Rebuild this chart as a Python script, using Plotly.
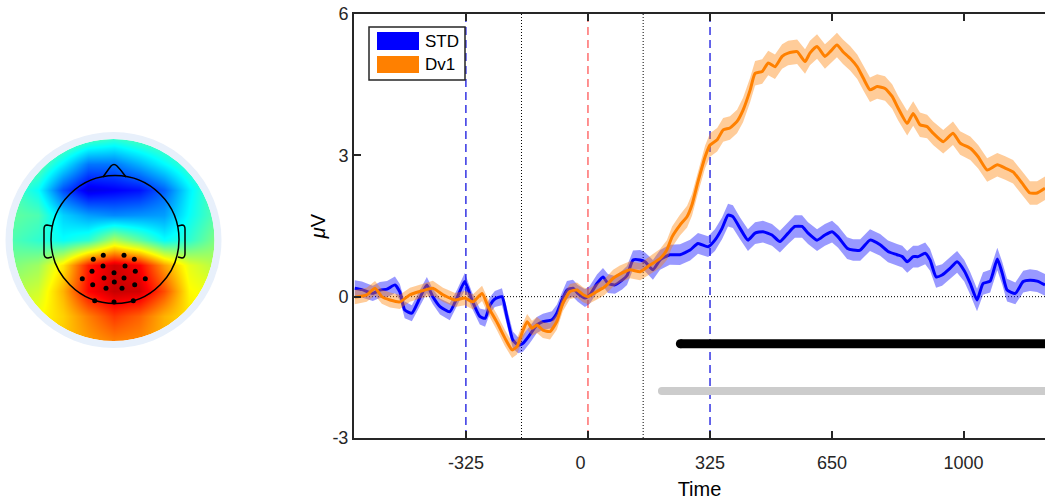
import numpy as np
import plotly.graph_objects as go

W, H = 1045, 500

# ---------------- ERP data (time in ms, amplitude in microvolts) ----------------
std_t = [-621, -602, -573, -554, -535, -514, -501, -488, -469, -448,
         -429, -413, -394, -368, -349, -328, -309, -288, -274, -261,
         -248, -229, -216, -200, -186, -173, -155, -136, -120, -96,
         -83, -69, -56, -40, -27, -8, 5, 24, 40, 53,
         72, 91, 104, 120, 139, 152, 173, 192, 218, 245,
         272, 293, 320, 338, 357, 373, 386, 405, 426, 445,
         466, 490, 511, 533, 551, 570, 586, 610, 631, 650,
         666, 690, 706, 725, 751, 778, 799, 823, 837, 850,
         866, 879, 898, 911, 927, 943, 964, 983, 1002, 1018,
         1036, 1052, 1071, 1090, 1103, 1116, 1138, 1159, 1177, 1196, 1217]
std_v = [0.18, 0.15, 0.07, 0.14, 0.16, 0.25, 0.10, -0.28, -0.35, -0.03,
         0.25, 0.00, -0.21, -0.32, -0.03, 0.32, -0.07, -0.42, -0.46, -0.18,
         -0.05, 0.00, -0.42, -0.92, -1.03, -0.99, -0.81, -0.60, -0.53, -0.49,
         -0.35, -0.07, 0.14, 0.18, 0.07, -0.03, 0.04, 0.28, 0.42, 0.28,
         0.25, 0.35, 0.45, 0.78, 0.78, 0.74, 0.57, 0.78, 0.89, 0.89,
         0.99, 1.13, 1.06, 1.20, 1.45, 1.73, 1.70, 1.45, 1.20, 1.35,
         1.38, 1.31, 1.17, 1.35, 1.49, 1.49, 1.35, 1.20, 1.31, 1.38,
         1.27, 1.03, 0.99, 0.99, 1.20, 1.10, 0.96, 0.89, 0.85, 0.74,
         0.85, 0.85, 0.92, 0.78, 0.42, 0.46, 0.60, 0.74, 0.55, 0.28,
         -0.07, 0.28, 0.33, 0.80, 0.50, 0.14, 0.07, 0.32, 0.35, 0.33, 0.25]
std_sem = [0.17, 0.17, 0.16, 0.17, 0.17, 0.18, 0.17, 0.18, 0.17, 0.17,
           0.17, 0.16, 0.17, 0.18, 0.17, 0.18, 0.17, 0.17, 0.18, 0.17,
           0.17, 0.18, 0.18, 0.18, 0.17, 0.18, 0.18, 0.17, 0.17, 0.18,
           0.18, 0.18, 0.19, 0.18, 0.18, 0.19, 0.19, 0.19, 0.19, 0.20,
           0.19, 0.20, 0.20, 0.20, 0.21, 0.20, 0.21, 0.21, 0.21, 0.22,
           0.22, 0.22, 0.22, 0.23, 0.23, 0.24, 0.24, 0.23, 0.23, 0.23,
           0.23, 0.23, 0.23, 0.23, 0.24, 0.24, 0.23, 0.23, 0.23, 0.23,
           0.23, 0.23, 0.23, 0.23, 0.23, 0.23, 0.23, 0.23, 0.23, 0.23,
           0.23, 0.23, 0.23, 0.23, 0.23, 0.23, 0.23, 0.23, 0.23, 0.24,
           0.24, 0.24, 0.24, 0.24, 0.24, 0.24, 0.23, 0.23, 0.23, 0.23, 0.23]

dv1_t = [-621, -589, -567, -549, -527, -501, -474, -448, -413, -386,
         -354, -328, -306, -282, -266, -242, -221, -202, -189, -176,
         -162, -149, -136, -120, -101, -83, -67, -48, -29, -13,
         0, 24, 45, 67, 85, 112, 139, 165, 192, 210,
         224, 245, 264, 277, 293, 312, 325, 344, 360, 378,
         397, 413, 432, 445, 464, 480, 498, 517, 533, 557,
         578, 591, 610, 631, 645, 663, 679, 698, 717, 733,
         751, 770, 791, 810, 826, 850, 866, 884, 903, 919,
         946, 972, 991, 1018, 1039, 1063, 1090, 1111, 1132, 1156,
         1177, 1196, 1217]
dv1_v = [-0.01, 0.04, 0.18, 0.00, -0.07, -0.11, 0.04, 0.11, 0.18, 0.04,
         -0.07, -0.03, -0.11, 0.07, -0.21, -0.55, -0.88, -1.13, -1.06, -0.78,
         -0.53, -0.67, -0.60, -0.71, -0.74, -0.53, -0.14, 0.11, 0.14, 0.04,
         0.00, 0.11, 0.21, 0.39, 0.48, 0.57, 0.53, 0.67, 0.81, 0.99,
         1.27, 1.52, 1.70, 1.95, 2.44, 2.97, 3.22, 3.33, 3.54, 3.58,
         3.72, 3.96, 4.39, 4.74, 4.78, 4.96, 4.88, 5.10, 5.17, 5.20,
         4.99, 5.17, 5.31, 5.10, 5.20, 5.34, 5.20, 5.06, 4.88, 4.64,
         4.39, 4.46, 4.42, 4.25, 4.00, 3.68, 3.89, 3.65, 3.61, 3.47,
         3.29, 3.47, 3.26, 3.15, 2.97, 2.69, 2.80, 2.73, 2.65, 2.41,
         2.20, 2.20, 2.30]
dv1_sem = [0.15, 0.15, 0.15, 0.15, 0.16, 0.15, 0.15, 0.15, 0.16, 0.15,
           0.15, 0.15, 0.16, 0.16, 0.16, 0.17, 0.17, 0.17, 0.17, 0.17,
           0.16, 0.16, 0.17, 0.17, 0.17, 0.17, 0.17, 0.16, 0.16, 0.16,
           0.16, 0.17, 0.17, 0.18, 0.18, 0.18, 0.18, 0.19, 0.20, 0.21,
           0.22, 0.22, 0.23, 0.23, 0.24, 0.24, 0.25, 0.25, 0.25, 0.25,
           0.25, 0.26, 0.26, 0.26, 0.26, 0.26, 0.26, 0.26, 0.26, 0.26,
           0.26, 0.26, 0.26, 0.26, 0.26, 0.26, 0.26, 0.26, 0.26, 0.26,
           0.26, 0.26, 0.26, 0.26, 0.26, 0.26, 0.26, 0.26, 0.25, 0.25,
           0.25, 0.25, 0.25, 0.25, 0.25, 0.25, 0.25, 0.25, 0.25, 0.25,
           0.25, 0.25, 0.25]

event_times = [-325, -177, 0, 147, 325]
event_kinds = ["blue", "dot", "red", "dot", "blue"]

sig_black_t = [246, 1260]
sig_black_y = [-1.0, -1.0]
sig_gray_t = [197, 1260]
sig_gray_y = [-2.0, -2.0]

x_ticks = [-325, 0, 325, 650, 1000]
x_tick_text = ["-325", "0\u00a0\u00a0\u00a0", "325", "650", "1000"]
y_ticks = [-3, 0, 3, 6]
y_tick_text = ["-3", "0", "3", "6"]

# ---------------- topography (normalised amplitude, jet scale 0..1) ----------------
# rows: front (top) -> back (bottom); columns: left -> right
topo_grid = [
    [0.52, 0.52, 0.50, 0.45, 0.42, 0.45, 0.48, 0.50, 0.50],
    [0.50, 0.47, 0.36, 0.24, 0.24, 0.30, 0.37, 0.44, 0.48],
    [0.45, 0.38, 0.20, 0.10, 0.12, 0.14, 0.22, 0.36, 0.47],
    [0.47, 0.45, 0.33, 0.28, 0.26, 0.27, 0.28, 0.38, 0.46],
    [0.45, 0.42, 0.38, 0.42, 0.55, 0.47, 0.38, 0.42, 0.50],
    [0.50, 0.53, 0.65, 0.85, 0.92, 0.88, 0.72, 0.60, 0.55],
    [0.55, 0.58, 0.70, 0.87, 0.93, 0.92, 0.80, 0.63, 0.60],
    [0.60, 0.62, 0.67, 0.75, 0.82, 0.78, 0.70, 0.65, 0.62],
    [0.62, 0.64, 0.68, 0.72, 0.75, 0.74, 0.70, 0.66, 0.62],
]
elec_x = [93.3, 103.3, 124.0, 134.3, 92.0, 103.0, 125.0, 135.3, 114.0, 82.3,
          104.0, 124.0, 145.3, 92.7, 114.3, 134.7, 106.0, 122.0, 94.7, 114.0, 133.3]
elec_y = [259.3, 255.3, 255.3, 259.3, 271.3, 266.0, 266.0, 271.3, 272.7, 278.7,
          278.0, 278.0, 278.7, 284.7, 282.0, 284.7, 288.3, 288.3, 300.7, 302.0, 300.7]

# ---------------- styling ----------------
BLUE = "rgb(0,0,255)"
ORANGE = "rgb(255,128,0)"
BLUE_BAND = "rgba(0,0,255,0.4)"
ORANGE_BAND = "rgba(255,128,0,0.4)"
AX = "#262626"
FONT = "Liberation Sans, Arial, sans-serif"

jet = [[0.0, "rgb(0,0,128)"], [0.125, "rgb(0,0,255)"], [0.375, "rgb(0,255,255)"],
       [0.625, "rgb(255,255,0)"], [0.875, "rgb(255,0,0)"], [1.0, "rgb(128,0,0)"]]

fig = go.Figure()


def band(t, m, s, color):
    up = [a + b for a, b in zip(m, s)]
    lo = [a - b for a, b in zip(m, s)]
    return go.Scatter(x=list(t) + list(t[::-1]), y=up + lo[::-1], mode="lines",
                      fill="toself", fillcolor=color, line=dict(width=0),
                      hoverinfo="skip", showlegend=False, xaxis="x", yaxis="y")


fig.add_trace(band(std_t, std_v, std_sem, BLUE_BAND))
fig.add_trace(go.Scatter(x=std_t, y=std_v, mode="lines", name="STD",
                         line=dict(color=BLUE, width=3, shape="spline", smoothing=0.5),
                         showlegend=False))
fig.add_trace(band(dv1_t, dv1_v, dv1_sem, ORANGE_BAND))
fig.add_trace(go.Scatter(x=dv1_t, y=dv1_v, mode="lines", name="Dv1",
                         line=dict(color=ORANGE, width=3, shape="spline", smoothing=0.5),
                         showlegend=False))

# significance bars
fig.add_trace(go.Scatter(x=sig_black_t, y=sig_black_y, mode="lines+markers",
                         line=dict(color="black", width=9),
                         marker=dict(color="black", size=[9, 0], line=dict(width=0), opacity=1),
                         showlegend=False))
fig.add_trace(go.Scatter(x=sig_gray_t, y=sig_gray_y, mode="lines+markers",
                         line=dict(color="rgb(204,204,204)", width=8),
                         marker=dict(color="rgb(204,204,204)", size=[8, 0], line=dict(width=0), opacity=1),
                         showlegend=False))

# topography
u = np.linspace(-1, 1, 9)
hx = 113.5 + 101 * u
hy = 240 + 101 * u
fig.add_trace(go.Heatmap(z=topo_grid, x=hx, y=hy, colorscale=jet, zmin=0, zmax=1,
                         zsmooth="best", showscale=False, xaxis="x2", yaxis="y2",
                         hoverinfo="skip"))
fig.add_trace(go.Scatter(x=elec_x, y=elec_y, mode="markers", xaxis="x2", yaxis="y2",
                         marker=dict(color="black", size=5, line=dict(width=0)), showlegend=False))

shapes = []
# event lines
for t, k in zip(event_times, event_kinds):
    if k == "blue":
        ln = dict(color="rgb(0,0,220)", width=1.2, dash="8px,5px")
    elif k == "red":
        ln = dict(color="rgb(255,110,110)", width=1.5, dash="8px,5px")
    else:
        ln = dict(color="black", width=1, dash="1px,2px")
    shapes.append(dict(type="line", xref="x", yref="y domain", x0=t, x1=t, y0=0, y1=1,
                       line=ln, layer="below"))
# zero line
shapes.append(dict(type="line", xref="x domain", yref="y", x0=0, x1=1, y0=0, y1=0,
                   line=dict(color="black", width=1, dash="1px,2px"), layer="below"))

# topo mask + ring + head
cx, cy = 113.5, 240.0
R = 135
shapes.append(dict(type="circle", xref="x2", yref="y2", x0=cx - R, x1=cx + R, y0=cy - R, y1=cy + R,
                   line=dict(color="white", width=68), layer="above"))
r2 = 104.5
shapes.append(dict(type="circle", xref="x2", yref="y2", x0=cx - r2, x1=cx + r2, y0=cy - r2, y1=cy + r2,
                   line=dict(color="rgb(232,240,251)", width=7), layer="above"))
hcx, hcy, hr = 115.0, 239.5, 64.0
shapes.append(dict(type="circle", xref="x2", yref="y2", x0=hcx - hr, x1=hcx + hr, y0=hcy - hr, y1=hcy + hr,
                   line=dict(color="black", width=1.5), layer="above"))
shapes.append(dict(type="path", xref="x2", yref="y2",
                   path="M 103,177 Q 108,170 111,166 Q 114,163 117,166 Q 121,170 126,177",
                   line=dict(color="black", width=1.5), layer="above"))
shapes.append(dict(type="path", xref="x2", yref="y2",
                   path="M 52,226 L 47,225 Q 44,225 44,229 L 44,253 Q 44,258 48,258 L 52,257",
                   line=dict(color="black", width=1.5), layer="above"))
shapes.append(dict(type="path", xref="x2", yref="y2",
                   path="M 178,226 L 182,225 Q 185,225 185,229 L 185,253 Q 185,258 182,258 L 178,257",
                   line=dict(color="black", width=1.5), layer="above"))


def px(x):
    return x / W


def py(y):
    return 1 - y / H


# legend box
shapes.append(dict(type="rect", xref="paper", yref="paper", x0=px(369), x1=px(465), y0=py(80), y1=py(27),
                   line=dict(color=AX, width=1.5), fillcolor="white", layer="above"))
shapes.append(dict(type="rect", xref="paper", yref="paper", x0=px(377), x1=px(419), y0=py(50), y1=py(32),
                   line=dict(width=0), fillcolor=BLUE, layer="above"))
shapes.append(dict(type="rect", xref="paper", yref="paper", x0=px(377), x1=px(419), y0=py(73), y1=py(56),
                   line=dict(width=0), fillcolor=ORANGE, layer="above"))

annotations = [
    dict(text="STD", x=px(423), y=py(41.5), xref="paper", yref="paper", xanchor="left", yanchor="middle",
         showarrow=False, font=dict(family=FONT, size=17, color="black")),
    dict(text="Dv1", x=px(423), y=py(64.5), xref="paper", yref="paper", xanchor="left", yanchor="middle",
         showarrow=False, font=dict(family=FONT, size=17, color="black")),
]

fig.update_layout(
    width=W, height=H, margin=dict(l=0, r=0, t=0, b=0),
    paper_bgcolor="white", plot_bgcolor="white", showlegend=False,
    font=dict(family=FONT, color=AX),
    shapes=shapes, annotations=annotations,
    xaxis=dict(domain=[354 / W, 1.0], range=[-623, 1217], tickvals=x_ticks, ticktext=x_tick_text,
               ticks="inside", ticklen=7, tickwidth=1.5, tickcolor=AX,
               showline=True, linecolor=AX, linewidth=2, mirror="ticks",
               showgrid=False, zeroline=False, tickfont=dict(size=18, color=AX),
               ticklabelstandoff=7,
               title=dict(text="Time", font=dict(size=20, color="black"), standoff=12),
               automargin=False),
    yaxis=dict(domain=[1 - 438 / H, 1 - 14 / H], range=[-3, 6], tickvals=y_ticks, ticktext=y_tick_text,
               ticks="inside", ticklen=7, tickwidth=1.5, tickcolor=AX,
               showline=True, linecolor=AX, linewidth=2,
               showgrid=False, zeroline=False, tickfont=dict(size=18, color=AX),
               title=dict(text="<i>μ</i>V", font=dict(size=20, color="black"), standoff=1),
               automargin=False),
    xaxis2=dict(domain=[0, 230 / W], range=[0, 230], visible=False, fixedrange=True),
    yaxis2=dict(domain=[1 - 350 / H, 1 - 130 / H], range=[350, 130], visible=False, fixedrange=True),
)

fig.write_html("out.html")
